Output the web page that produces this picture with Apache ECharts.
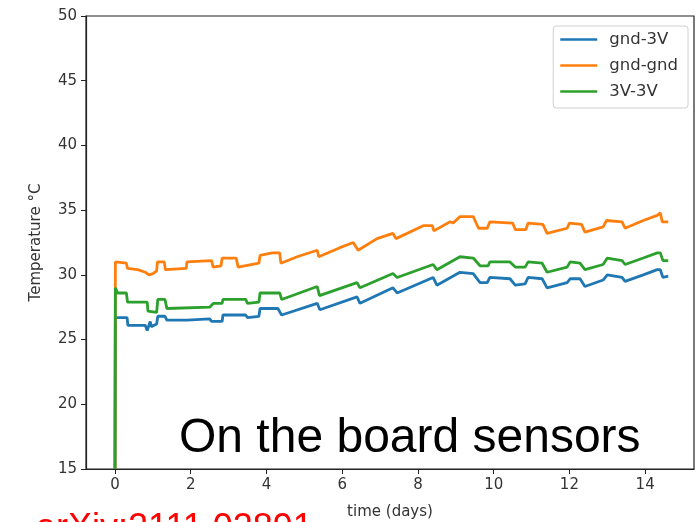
<!DOCTYPE html>
<html>
<head>
<meta charset="utf-8">
<script src="https://cdn.jsdelivr.net/npm/echarts@6/dist/echarts.min.js"></script>
<style>html,body{margin:0;padding:0;background:#fff}#c{width:696px;height:522px}</style>
</head>
<body>
<div id="c"></div>
<script>
const seriesNames = ['gnd-3V', 'gnd-gnd', '3V-3V'];
const seriesColors = ['#1f77b4', '#ff7f0e', '#2ca02c'];
const xTicks = [0, 2, 4, 6, 8, 10, 12, 14];

const daysGnd3V = [0, 0.01, 0.32, 0.34, 0.8, 0.85, 0.9, 0.93, 0.96, 1.1, 1.13, 1.32, 1.37, 1.9, 2.5, 2.55, 2.83, 2.85, 3.45, 3.5, 3.8, 3.83, 4.3, 4.4, 5.34, 5.41, 6.39, 6.47, 7.34, 7.45, 8.4, 8.5, 9.11, 9.46, 9.64, 9.83, 9.9, 10.43, 10.57, 10.83, 10.91, 11.28, 11.41, 11.94, 12.02, 12.28, 12.41, 12.89, 13.0, 13.39, 13.47, 13.95, 14.32, 14.4, 14.47, 14.61];
const tempGnd3V = [15, 26.7, 26.7, 26.1, 26.1, 25.7, 25.6, 26.4, 26.0, 26.2, 26.8, 26.8, 26.5, 26.5, 26.6, 26.4, 26.4, 26.9, 26.9, 26.7, 26.8, 27.4, 27.4, 26.9, 27.8, 27.3, 28.3, 27.8, 29.0, 28.6, 29.8, 29.2, 30.2, 30.1, 29.4, 29.4, 29.8, 29.7, 29.2, 29.3, 29.8, 29.7, 29.0, 29.4, 29.7, 29.7, 29.1, 29.6, 30.0, 29.8, 29.5, 30.0, 30.4, 30.4, 29.8, 29.9];

const daysGndGnd = [0, 0.01, 0.3, 0.33, 0.6, 0.8, 0.9, 1.0, 1.1, 1.12, 1.3, 1.33, 1.88, 1.9, 2.55, 2.59, 2.8, 2.83, 3.2, 3.25, 3.8, 3.83, 4.15, 4.35, 4.38, 4.81, 5.34, 5.38, 5.94, 6.29, 6.42, 6.92, 7.34, 7.42, 8.14, 8.38, 8.42, 8.85, 8.93, 9.11, 9.46, 9.6, 9.83, 9.9, 10.5, 10.57, 10.85, 10.91, 11.3, 11.41, 11.94, 12.0, 12.32, 12.41, 12.89, 12.98, 13.39, 13.47, 13.95, 14.32, 14.4, 14.45, 14.61];
const tempGndGnd = [15, 31.0, 30.9, 30.5, 30.4, 30.2, 30.0, 30.1, 30.3, 31.0, 31.0, 30.4, 30.5, 31.0, 31.1, 30.6, 30.7, 31.3, 31.3, 30.6, 30.9, 31.5, 31.7, 31.7, 30.9, 31.4, 31.9, 31.4, 32.1, 32.5, 31.9, 32.8, 33.2, 32.8, 33.8, 33.8, 33.4, 34.1, 34.0, 34.5, 34.5, 33.6, 33.6, 34.1, 34.0, 33.5, 33.5, 34.0, 33.9, 33.2, 33.6, 34.0, 33.9, 33.3, 33.7, 34.2, 34.1, 33.6, 34.2, 34.6, 34.8, 34.1, 34.1];

const days3V3V = [0, 0.01, 0.05, 0.07, 0.3, 0.33, 0.85, 0.87, 1.1, 1.13, 1.32, 1.37, 2.5, 2.6, 2.83, 2.85, 3.45, 3.5, 3.8, 3.83, 4.35, 4.4, 5.34, 5.4, 6.39, 6.47, 7.34, 7.45, 8.4, 8.5, 9.11, 9.46, 9.64, 9.85, 9.9, 10.43, 10.57, 10.83, 10.91, 11.28, 11.41, 11.94, 12.02, 12.28, 12.41, 12.89, 13.0, 13.39, 13.47, 13.95, 14.32, 14.4, 14.47, 14.61];
const temp3V3V = [15, 29.0, 29.0, 28.6, 28.6, 27.9, 27.9, 27.2, 27.1, 28.1, 28.1, 27.4, 27.5, 27.8, 27.8, 28.1, 28.1, 27.8, 27.9, 28.6, 28.6, 28.1, 29.1, 28.4, 29.4, 29.0, 30.1, 29.8, 30.8, 30.4, 31.4, 31.3, 30.7, 30.7, 31.0, 31.0, 30.6, 30.6, 31.0, 30.9, 30.2, 30.6, 31.0, 30.9, 30.4, 30.8, 31.3, 31.1, 30.8, 31.3, 31.7, 31.7, 31.1, 31.1];

const allDays = [daysGnd3V, daysGndGnd, days3V3V];
const allTemps = [tempGnd3V, tempGndGnd, temp3V3V];

const chart = echarts.init(document.getElementById('c'), null, {renderer: 'canvas'});
const font = 'DejaVu Sans';
chart.setOption({
  animation: false,
  backgroundColor: '#fff',
  grid: {left: 86, right: 2, top: 16, bottom: 53, outerBoundsMode: 'none', containLabel: false, show: true, borderColor: '#222', borderWidth: 1.2, backgroundColor: 'transparent'},
  xAxis: {
    type: 'value', min: -0.766, max: 15.29,
    name: 'time (days)', nameLocation: 'middle', nameGap: 36,
    nameTextStyle: {fontFamily: font, fontSize: 15, color: '#333'},
    axisLine: {show: true, onZero: false, lineStyle: {color: '#222', width: 1.2}},
    axisTick: {show: true, length: 5, customValues: xTicks, lineStyle: {color: '#222'}},
    axisLabel: {customValues: xTicks, fontFamily: font, fontSize: 15, color: '#333', margin: 9},
    splitLine: {show: false}
  },
  yAxis: {
    type: 'value', min: 15, max: 50, interval: 5,
    name: 'Temperature °C', nameLocation: 'middle', nameGap: 42,
    nameTextStyle: {fontFamily: font, fontSize: 15, color: '#333'},
    axisLine: {show: true, onZero: false, lineStyle: {color: '#222', width: 1.2}},
    axisTick: {show: true, length: 5, lineStyle: {color: '#222'}},
    axisLabel: {fontFamily: font, fontSize: 15, color: '#333', margin: 9},
    splitLine: {show: false}
  },
  legend: {
    orient: 'vertical', right: 8, top: 26,
    data: seriesNames, icon: 'rect',
    itemWidth: 37, itemHeight: 2.5, itemGap: 9,
    padding: [5, 10, 8, 7],
    backgroundColor: '#fff', borderColor: '#d0d0d0', borderWidth: 1, borderRadius: 3,
    textStyle: {fontFamily: font, fontSize: 16.5, color: '#333', lineHeight: 16, padding: [0, 0, 0, 7]}
  },
  graphic: [
    {type: 'text', left: 179, top: 415, style: {text: 'On the board sensors', font: '48px "Liberation Sans"', fill: '#000'}, z: 10},
    {type: 'text', left: 36, top: 511, style: {text: 'arXiv:2111.02891', font: '36px "Liberation Sans"', fill: '#ff0000'}, z: 10}
  ],
  series: seriesNames.map((n, i) => ({
    name: n, type: 'line', symbol: 'none',
    data: allDays[i].map((d, k) => [d, allTemps[i][k]]),
    lineStyle: {color: seriesColors[i], width: 2.8},
    itemStyle: {color: seriesColors[i]},
    z: 2 + i
  }))
});
</script>
</body>
</html>
